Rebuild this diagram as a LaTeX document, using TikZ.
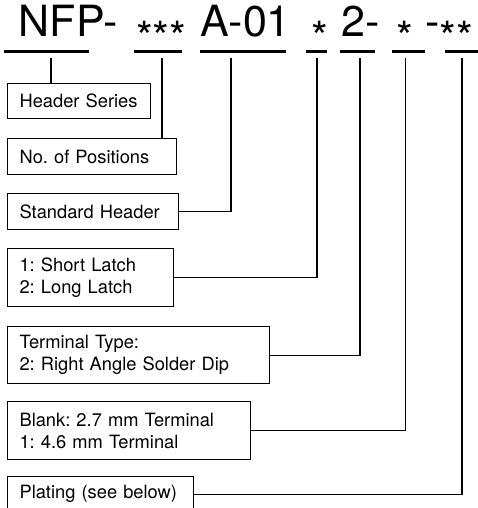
\documentclass[tikz,border=0pt]{standalone}
\usepackage{fontspec}
\setmainfont{TeX Gyre Heros}
\usepackage{tikz}
\usetikzlibrary{calc}

\tikzset{
  code/.style={anchor=base west, inner sep=0pt, font=\fontsize{43}{43}\selectfont},
  bar/.style={line width=2.6pt},
  field/.style={draw, line width=1.1pt, anchor=north west, inner xsep=12pt,
    inner ysep=0pt, font=\fontsize{18.3}{22}\selectfont\frenchspacing},
  lead/.style={line width=1.1pt}
}

\begin{document}
\begin{tikzpicture}[x=1pt,y=-1pt,every text node part/.style={align=left}]
  \useasboundingbox (0,0) rectangle (478,508);
    % Part Number
  \node[code] (C1) at (18.7,37) {NFP-};
  \node[code] (C2) at (136,53)  {***};
  \node[code] (C3) at (200,37)  {A-01};
  \node[code] (C4) at (311,53)  {*};
  \node[code] (C5) at (341,37)  {2-};
  \node[code] (C6) at (396,53)  {*};
  \node[code] (C7) at (425,37)  {-\raisebox{-16pt}{**}};

  \draw [bar] (4,51.5)   -- (89,51.5);
  \draw [bar] (134,51.5) -- (182,51.5);
  \draw [bar] (200,51.5) -- (286,51.5);
  \draw [bar] (306,51.5) -- (327,51.5);
  \draw [bar] (340,51.5) -- (375,51.5);
  \draw [bar] (392,51.5) -- (425,51.5);
  \draw [bar] (445,51.5) -- (478,51.5);

  \coordinate (T1) at (51,58);
  \coordinate (T2) at (162,58);
  \coordinate (T3) at (231,58);
  \coordinate (T4) at (317,58);
  \coordinate (T5) at (360,58);
  \coordinate (T6) at (405.5,58);
  \coordinate (T7) at (462,58);

    % Fields
  \node[field, minimum width=143, minimum height=35, text width=119] (HS) at (7,83)
    {Header Series};
  \node[field, minimum width=169, minimum height=36, text width=145] (NP) at (7,138)
    {No. of Positions};
  \node[field, minimum width=171, minimum height=36, text width=147] (SH) at (7,193)
    {Standard Header};
  \node[field, minimum width=166, minimum height=58, text width=142] (LT) at (7,248)
    {1: Short Latch\\2: Long Latch};
  \node[field, minimum width=262, minimum height=57, text width=238] (TT) at (7,326)
    {Terminal Type:\\2: Right Angle Solder Dip};
  \node[field, minimum width=243, minimum height=58, text width=219] (TM) at (7,401)
    {Blank: 2.7 mm Terminal\\1: 4.6 mm Terminal};
  \node[field, minimum width=186, minimum height=35, text width=162] (PL) at (7,476)
    {Plating (see below)};

  \draw [lead] (T1)     to (T1 |- HS.north);
  \draw [lead] (T2)     to (T2 |- NP.north);
  \draw [lead] (SH.east) -| (T3);
  \draw [lead] (LT.east) -| (T4);
  \draw [lead] (TT.east) -| (T5);
  \draw [lead] (TM.east) -| (T6);
  \draw [lead] (PL.east) -| (T7);

\end{tikzpicture}
\end{document}
